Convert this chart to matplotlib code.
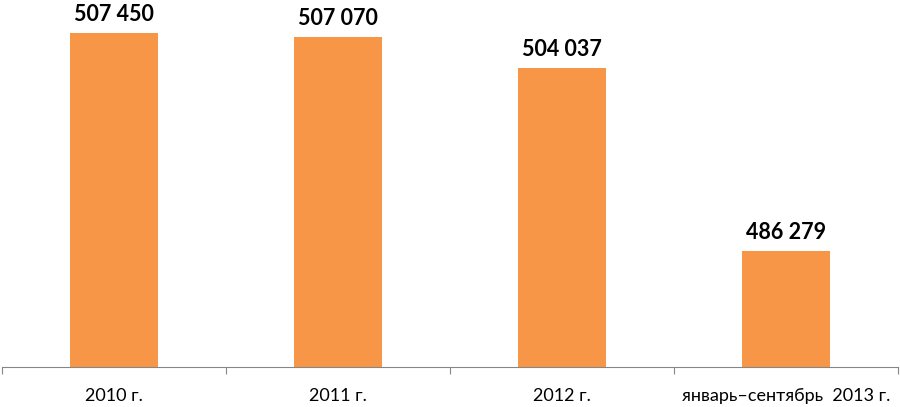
import matplotlib
matplotlib.use("Agg")
import matplotlib.pyplot as plt

categories = ["2010 г.", "2011 г.", "2012 г.", "январь–сентябрь  2013 г."]
values = [507450, 507070, 504037, 486279]
value_labels = ["507 450", "507 070", "504 037", "486 279"]

plt.rcParams['font.family'] = ['Lato', 'DejaVu Sans']

fig = plt.figure(figsize=(9, 4.07), dpi=100)
ax = fig.add_axes([2/900, 40/407, 896/900, (367-6.6)/407])

x = range(len(categories))
bars = ax.bar(x, values, width=0.39, color="#F79646", bottom=0)
ax.set_ylim(475000, 510000)
ax.set_xlim(-0.5, len(categories) - 0.5)

for xi, v, lab in zip(x, values, value_labels):
    ax.annotate(lab, (xi, v), xytext=(0, 5.5), textcoords="offset points",
                ha="center", va="bottom", fontsize=15.5, fontweight="bold", color="black",
                annotation_clip=False)

for s in ["top", "right", "left"]:
    ax.spines[s].set_visible(False)
ax.spines["bottom"].set_color("#868686")
ax.yaxis.set_visible(False)

ax.set_xticks([-0.5 + i for i in range(len(categories) + 1)], minor=False)
ax.set_xticklabels([])
ax.tick_params(axis="x", which="major", length=5, color="#868686", direction="out")
ax.set_xticks(list(x), minor=True)
ax.set_xticklabels(categories, minor=True)
ax.tick_params(axis="x", which="minor", length=0, pad=15, labelsize=13)

fig.savefig("out.png", dpi=100)
